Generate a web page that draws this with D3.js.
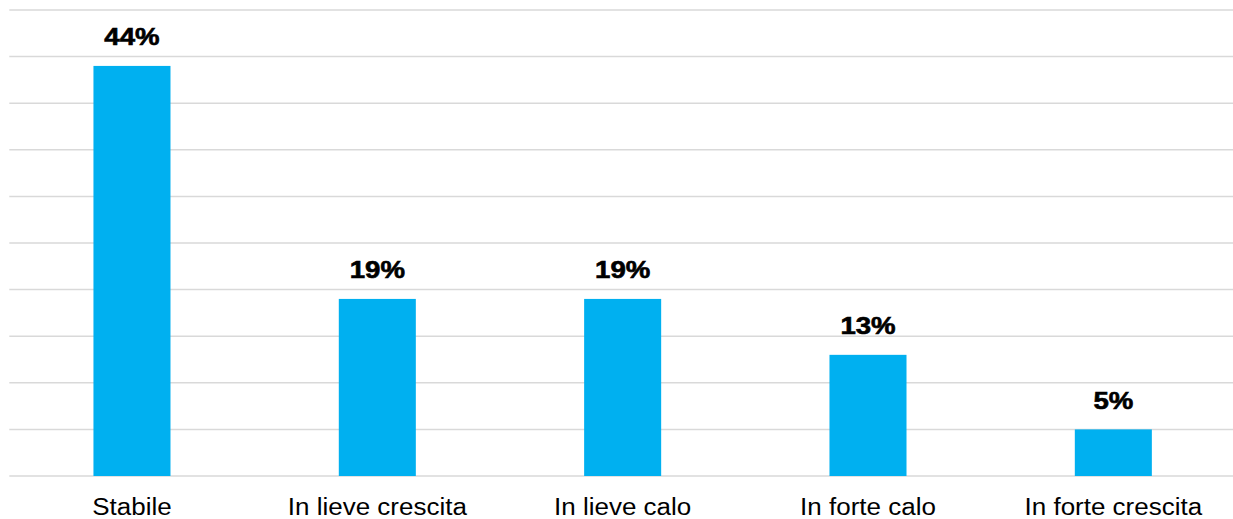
<!DOCTYPE html>
<html><head><meta charset="utf-8">
<script src="https://cdn.jsdelivr.net/npm/d3@7"></script>
<style>body{margin:0;background:#fff}svg{display:block}</style>
</head><body>
<svg id="c" width="1233" height="519"></svg>
<script>
const categories = ["Stabile","In lieve crescita","In lieve calo","In forte calo","In forte crescita"];
const values = [44,19,19,13,5];
const labels = ["44%","19%","19%","13%","5%"];
const yTicks = [0,5,10,15,20,25,30,35,40,45,50];

(function(){
const svg = d3.select("#c");
const mLeft = 9.3, mRight = 1236, mTop = 10, mBottom = 476;
const x = d3.scaleBand().domain(categories).range([mLeft,mRight]).padding(0);
const y = d3.scaleLinear().domain([0,50]).range([mBottom,mTop]);

svg.append("g").selectAll("line").data(yTicks).join("line")
  .attr("x1",mLeft).attr("x2",1233)
  .attr("y1",d=>y(d)).attr("y2",d=>y(d))
  .attr("stroke","#d9d9d9").attr("stroke-width",1.5);

const bw = x.bandwidth()*0.314;
svg.append("g").selectAll("rect").data(values).join("rect")
  .attr("x",(d,i)=>x(categories[i])+x.bandwidth()/2-bw/2)
  .attr("width",bw)
  .attr("y",d=>y(d)).attr("height",d=>y(0)-y(d))
  .attr("fill","#00B0F0");

svg.append("g").selectAll("text").data(values).join("text")
  .attr("transform",(d,i)=>`translate(${x(categories[i])+x.bandwidth()/2},${y(d)-20.5}) scale(1.2,1)`)
  .attr("text-anchor","middle")
  .attr("font-family","Liberation Sans, Arial, sans-serif")
  .attr("font-weight","bold").attr("font-size",23).attr("fill","#000")
  .attr("stroke","#000").attr("stroke-width",0.6)
  .text((d,i)=>labels[i]);

svg.append("g").selectAll("text").data(categories).join("text")
  .attr("transform",d=>`translate(${x(d)+x.bandwidth()/2},515) scale(1.13,1)`)
  .attr("text-anchor","middle")
  .attr("font-family","Liberation Sans, Arial, sans-serif")
  .attr("font-size",23).attr("fill","#000")
  .text(d=>d);
})();
</script>
</body></html>
